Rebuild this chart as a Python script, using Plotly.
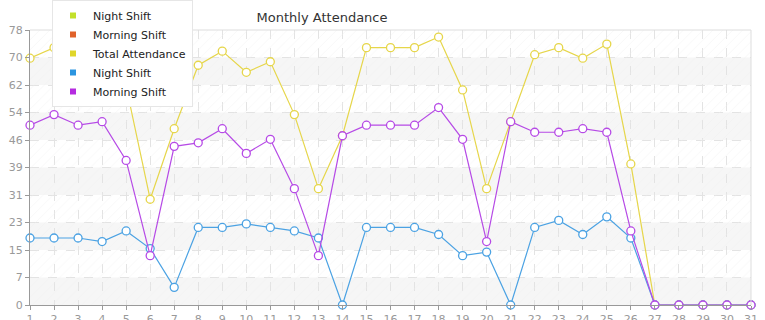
import plotly.graph_objects as go

days = list(range(1, 32))
x_tick_labels = [str(d) for d in days]

night_shift = [19, 19, 19, 18, 21, 16, 5, 22, 22, 23, 22, 21, 19, 0, 22, 22, 22, 20, 14, 15,
               0, 22, 24, 20, 25, 19, 0, 0, 0, 0, 0]
morning_shift = [51, 54, 51, 52, 41, 14, 45, 46, 50, 43, 47, 33, 14, 48, 51, 51, 51, 56, 47, 18,
                 52, 49, 49, 50, 49, 21, 0, 0, 0, 0, 0]
total_attendance = [70, 73, 70, 70, 62, 30, 50, 68, 72, 66, 69, 54, 33, 48, 73, 73, 73, 76, 61, 33,
                    52, 71, 73, 70, 74, 40, 0, 0, 0, 0, 0]

legend_names = ["Night Shift", "Morning Shift", "Total Attendance", "Night Shift", "Morning Shift"]
legend_colors = ["#c3e02b", "#e0622b", "#e0d62b", "#2b95e0", "#b52be0"]

y_max = 78
y_tick_labels = ["0", "7", "15", "23", "31", "39", "46", "54", "62", "70", "78"]

FONT = "DejaVu Sans"

fig = go.Figure()

# faint hatch over plot area
fig.add_trace(go.Scatter(
    x=[1, 31, 31, 1, 1], y=[0, 0, y_max, y_max, 0], mode="none", fill="toself",
    fillcolor="rgba(0,0,0,0)",
    fillpattern=dict(shape="/", fgcolor="#efefef", bgcolor="rgba(0,0,0,0)", size=7, solidity=0.12),
    hoverinfo="skip", showlegend=False))

series = [
    (total_attendance, "#e6d64a"),
    (night_shift, "#4ba2e3"),
    (morning_shift, "#b64ae6"),
]
for vals, col in series:
    fig.add_trace(go.Scatter(
        x=days, y=vals, mode="lines+markers",
        line=dict(color=col, width=1.2),
        marker=dict(symbol="circle", size=8, color="white", line=dict(color=col, width=1.3)),
        cliponaxis=False, showlegend=False))

for name, col in zip(legend_names, legend_colors):
    fig.add_trace(go.Scatter(
        x=[None], y=[None], mode="markers", name=name,
        marker=dict(symbol="square", size=6, color=col)))

shapes = []
step = y_max / 10
for k in range(0, 10, 2):
    shapes.append(dict(type="rect", xref="paper", yref="y", x0=0, x1=1,
                       y0=k * step, y1=(k + 1) * step, fillcolor="#f6f6f6",
                       line=dict(width=0), layer="below"))
# top and right border
shapes.append(dict(type="line", xref="paper", yref="paper", x0=0, x1=1, y0=1, y1=1,
                   line=dict(color="#dddddd", width=1)))
shapes.append(dict(type="line", xref="paper", yref="paper", x0=1, x1=1, y0=0, y1=1,
                   line=dict(color="#dddddd", width=1)))

fig.update_layout(
    width=765, height=320,
    margin=dict(l=30, r=14, t=30, b=15, autoexpand=False),
    paper_bgcolor="white", plot_bgcolor="white",
    font=dict(family=FONT, size=11, color="#999999"),
    title=dict(text="Monthly Attendance", x=0.421, xanchor="center", y=0.947, yanchor="middle",
               font=dict(family=FONT, size=13, color="#333333")),
    shapes=shapes,
    showlegend=True,
    legend=dict(x=52 / 765, y=1.0, xref="container", yref="container",
                xanchor="left", yanchor="top",
                bgcolor="white", bordercolor="#e6e6e6", borderwidth=1,
                font=dict(family=FONT, size=11, color="#222222"),
                itemwidth=30, tracegroupgap=0),
    xaxis=dict(range=[1, 31], tickmode="array", tickvals=days, ticktext=x_tick_labels,
               showgrid=True, gridcolor="#e3e3e3", griddash="dash", gridwidth=1,
               showline=True, linecolor="#999999", linewidth=1,
               ticks="outside", ticklen=4, tickcolor="#999999",
               zeroline=False, fixedrange=True, automargin=False),
    yaxis=dict(range=[0, y_max], tickmode="array",
               tickvals=[i * step for i in range(11)], ticktext=y_tick_labels,
               showgrid=True, gridcolor="#e3e3e3", griddash="dash", gridwidth=1,
               showline=True, linecolor="#999999", linewidth=1,
               ticks="outside", ticklen=4, tickcolor="#999999",
               zeroline=False, fixedrange=True, automargin=False),
)

fig.write_html("out.html")
